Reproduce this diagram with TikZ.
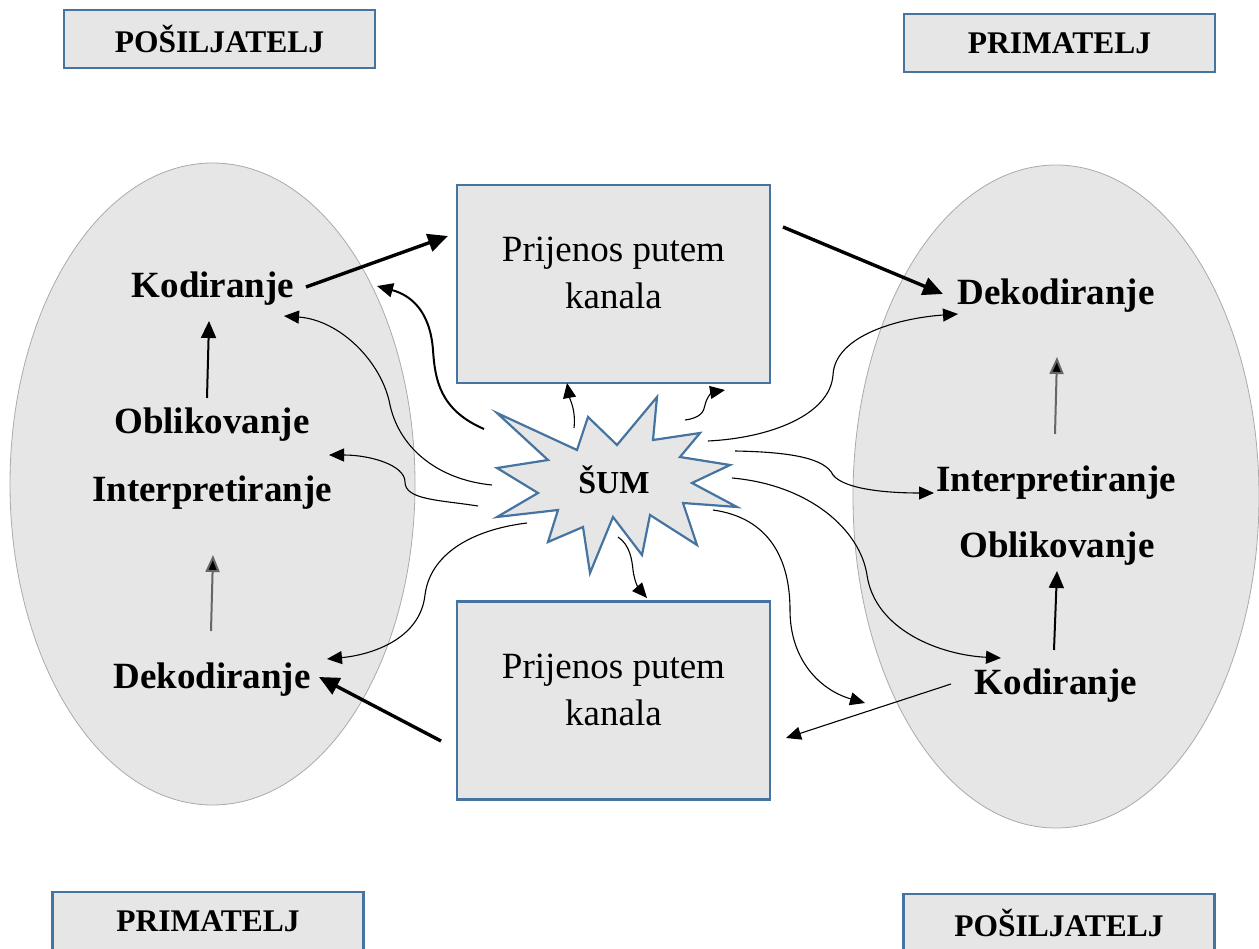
\documentclass[tikz,border=0pt]{standalone}
\usepackage{fontspec}
\setmainfont{Liberation Serif}
\usetikzlibrary{arrows.meta,shapes.geometric}
\definecolor{boxfill}{RGB}{230,230,230}
\definecolor{boxblue}{RGB}{70,116,160}
\definecolor{ellline}{RGB}{170,170,170}
\tikzset{
  rolebox/.style={draw=boxblue,line width=2.6pt,fill=boxfill,minimum width=311pt,minimum height=58pt,inner sep=0pt,font=\fontsize{31.5}{34}\selectfont\bfseries},
  chanbox/.style={draw=boxblue,line width=2.2pt,fill=boxfill,minimum width=313pt,minimum height=198pt,inner sep=0pt},
  chantext/.style={align=center,inner sep=0pt,font=\fontsize{37}{47}\selectfont},
  side/.style={draw=ellline,line width=0.8pt,fill=boxfill,ellipse,inner sep=0pt},
  lbl/.style={font=\fontsize{37}{40}\selectfont\bfseries,inner sep=0pt},
  thick arr/.style={line width=3.4pt,-{Triangle[length=20pt,width=18pt]}},
  mid arr/.style={line width=2pt,-{Triangle[length=17pt,width=15pt]}},
  thin arr/.style={line width=1.1pt,-{Triangle[length=15pt,width=13pt]}},
  grey arr/.style={line width=2pt,draw=black!60,-{Triangle[length=17pt,width=14pt,fill=black]}},
}
\begin{document}
\begin{tikzpicture}[x=1pt,y=-1pt]
\useasboundingbox (0,0) rectangle (1259,949);
\clip (0,0) rectangle (1259,949);
% role boxes
\node[rolebox] (ptl) at (219.5,39) {POŠILJATELJ};
\node[rolebox] (ptr) at (1059.5,43) {PRIMATELJ};
\node[rolebox] (pbl) at (208,921) {PRIMATELJ};
\node[rolebox] (pbr) at (1059,923) {POŠILJATELJ};
% ellipses
\node[side,minimum width=405pt,minimum height=642pt] (el) at (212.5,484) {};
\node[side,minimum width=406pt,minimum height=663pt] (er) at (1056,496.5) {};
% channel boxes
\node[chanbox] (ct) at (613.5,284) {};
\node[chantext] (ctt) at (613.5,273) {Prijenos putem\\kanala};
\node[chanbox] (cb) at (613.5,700.5) {};
\node[chantext] (cbt) at (613.5,690) {Prijenos putem\\kanala};
% star
\draw[boxblue,line width=2.2pt,fill=boxfill,line join=miter]
  (497,413) -- (577,450) -- (588,417) -- (617,445) -- (657,397) -- (653,440)
  -- (700,433) -- (680,457) -- (730,465) -- (692,483) -- (737,507) -- (683,503)
  -- (697,545) -- (650,515) -- (642,555) -- (613,517) -- (590,573) -- (583,527)
  -- (548,542) -- (558,510) -- (497,517) -- (538,493) -- (497,468) -- (548,460) -- cycle;
\node[font=\fontsize{32}{34}\selectfont\bfseries] (sum) at (614,480) {ŠUM};
% labels left
\node[lbl] (kl) at (213,289) {Kodiranje};
\node[lbl] (ol) at (212,425) {Oblikovanje};
\node[lbl] (il) at (212,493) {Interpretiranje};
\node[lbl] (dl) at (212,680) {Dekodiranje};
% labels right
\node[lbl] (dr) at (1056,296) {Dekodiranje};
\node[lbl] (ir) at (1056,483) {Interpretiranje};
\node[lbl] (or) at (1057,549) {Oblikovanje};
\node[lbl] (kr) at (1056,686) {Kodiranje};
% vertical arrows
\coordinate (a1) at (207,398); \coordinate (a2) at (209,321);
\draw[mid arr] (a1) -- (a2);
\coordinate (b1) at (211,631); \coordinate (b2) at (213,555);
\draw[grey arr] (b1) -- (b2);
\coordinate (c1) at (1055,434); \coordinate (c2) at (1057,357);
\draw[grey arr] (c1) -- (c2);
\coordinate (d1) at (1054,650); \coordinate (d2) at (1057,571);
\draw[mid arr] (d1) -- (d2);
% main thick arrows
\coordinate (k1) at (306,287); \coordinate (k2) at (448,236);
\draw[thick arr] (k1) -- (k2);
\coordinate (t1) at (783,227); \coordinate (t2) at (943,294);
\draw[thick arr] (t1) -- (t2);
\coordinate (m1) at (441,741); \coordinate (m2) at (319,677);
\draw[thick arr] (m1) -- (m2);
\coordinate (n1) at (951,684); \coordinate (n2) at (786,738);
\draw[thin arr] (n1) -- (n2);
% noise curves
\coordinate (sa) at (484,429); \coordinate (ea) at (377,286);
\draw[line width=2pt,-{Triangle[length=16pt,width=14pt]}] (sa) .. controls (440,410) and (435,380) .. (433,350) .. controls (430,310) and (410,295) .. (ea);
\coordinate (sb) at (492,485); \coordinate (eb) at (284,316);
\draw[thin arr] (sb) .. controls (440,480) and (400,450) .. (390,405) .. controls (382,362) and (340,320) .. (eb);
\coordinate (sc) at (478,506); \coordinate (ec) at (329,455);
\draw[thin arr] (sc) .. controls (440,500) and (405,500) .. (405,482) .. controls (405,465) and (370,455) .. (ec);
\coordinate (sd) at (527,523); \coordinate (ed) at (327,659);
\draw[thin arr] (sd) .. controls (470,530) and (430,555) .. (425,595) .. controls (420,640) and (370,655) .. (ed);
\coordinate (se) at (708,441); \coordinate (ee) at (958,314);
\draw[thin arr] (se) .. controls (770,438) and (830,415) .. (833,375) .. controls (835,335) and (900,318) .. (ee);
\coordinate (sf) at (735,451); \coordinate (ef) at (934,493);
\draw[thin arr] (sf) .. controls (790,452) and (825,458) .. (833,475) .. controls (845,490) and (890,493) .. (ef);
\coordinate (sg) at (732,478); \coordinate (eg) at (1001,658);
\draw[thin arr] (sg) .. controls (810,485) and (860,530) .. (867,575) .. controls (875,630) and (940,655) .. (eg);
\coordinate (sh) at (713,510); \coordinate (eh) at (865,703);
\draw[thin arr] (sh) .. controls (770,518) and (790,560) .. (790,610) .. controls (790,660) and (820,690) .. (eh);
\coordinate (si) at (574,428); \coordinate (ei) at (567,383);
\draw[thin arr] (si) .. controls (576,410) and (570,400) .. (ei);
\coordinate (sj) at (685,420); \coordinate (ej) at (725,390);
\draw[thin arr] (sj) .. controls (700,418) and (704,412) .. (705,405) .. controls (707,396) and (713,392) .. (ej);
\coordinate (sk) at (618,537); \coordinate (ek) at (647,598);
\draw[thin arr] (sk) .. controls (630,545) and (632,560) .. (633,570) .. controls (635,585) and (640,590) .. (ek);
\end{tikzpicture}
\end{document}
